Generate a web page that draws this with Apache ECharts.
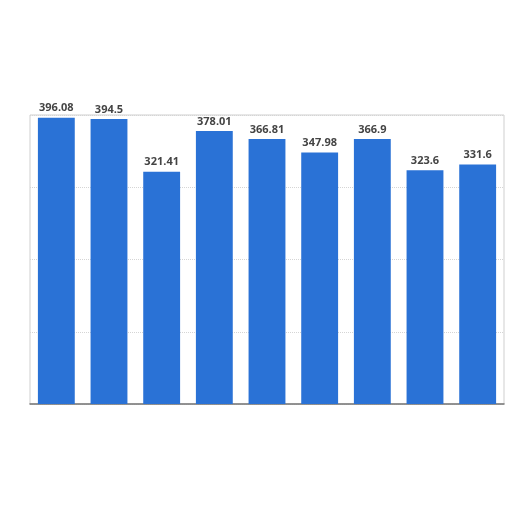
<!DOCTYPE html>
<html>
<head>
<meta charset="utf-8">
<script src="https://cdn.jsdelivr.net/npm/echarts@6/dist/echarts.min.js"></script>
<style>html,body{margin:0;padding:0;background:#fff}#c{width:512px;height:512px}</style>
</head>
<body>
<div id="c"></div>
<script>
var categories = ['1','2','3','4','5','6','7','8','9'];
var values = [396.08, 394.5, 321.41, 378.01, 366.81, 347.98, 366.9, 323.6, 331.6];
var yTicks = [0, 100, 200, 300, 400];

var chart = echarts.init(document.getElementById('c'));
chart.setOption({
  animation: false,
  backgroundColor: '#ffffff',
  grid: { left: 30, right: 8, top: 115, bottom: 108, show: true, borderColor: '#cfcfcf', borderWidth: 1, backgroundColor: '#ffffff' },
  xAxis: {
    type: 'category', data: categories,
    axisLine: { show: true, lineStyle: { color: '#777', width: 1.5 } },
    axisTick: { show: false }, axisLabel: { show: false }
  },
  yAxis: {
    type: 'value', min: yTicks[0], max: yTicks[yTicks.length-1], interval: 100,
    axisLine: { show: false }, axisTick: { show: false }, axisLabel: { show: false },
    splitLine: { show: true, lineStyle: { color: '#d5d5d5', type: 'dotted' } }
  },
  series: [{
    type: 'bar', data: values, barWidth: '70%',
    itemStyle: { color: '#2a72d6' },
    label: { show: true, position: 'top', distance: 4, color: '#444', fontWeight: 'bold', fontSize: 11, fontFamily: 'Open Sans' }
  }]
});
</script>
</body>
</html>
